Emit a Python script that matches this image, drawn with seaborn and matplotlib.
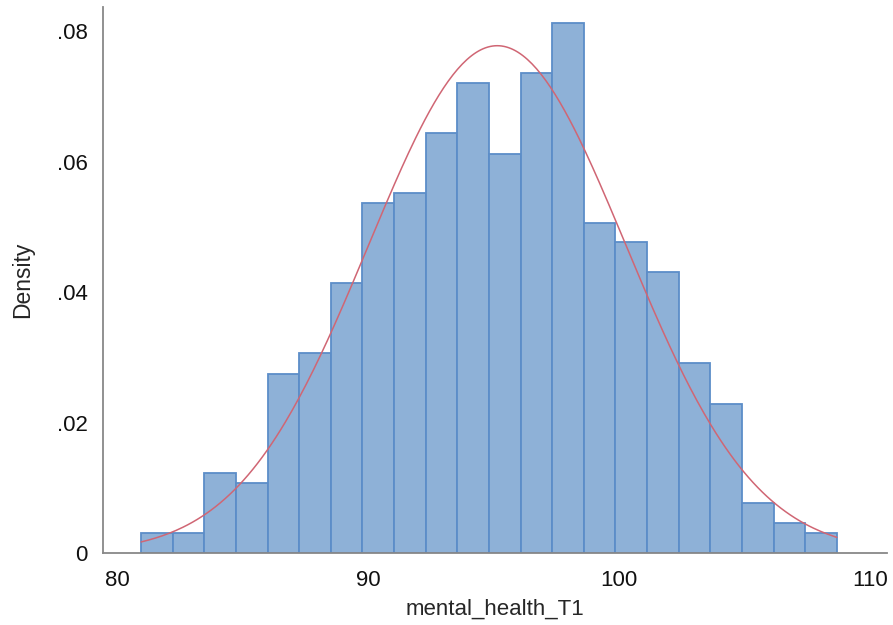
import numpy as np
import pandas as pd
import matplotlib
matplotlib.use("Agg")
import matplotlib.pyplot as plt
import seaborn as sns

# Data
bin_start = 80.96
bin_width = 1.26
densities = [0.0031, 0.0031, 0.0122, 0.0107, 0.0275, 0.0307, 0.0414, 0.0536,
             0.0552, 0.0644, 0.0720, 0.0612, 0.0736, 0.0812, 0.0506, 0.0476,
             0.0430, 0.0291, 0.0229, 0.0076, 0.0046, 0.0031]
normal_mean = 95.15
normal_sd = 5.13
x_ticks = [80, 90, 100, 110]
x_tick_labels = ["80", "90", "100", "110"]
y_ticks = [0, 0.02, 0.04, 0.06, 0.08]
y_tick_labels = ["0", ".02", ".04", ".06", ".08"]

sns.set_style("white")
plt.rcParams['font.family'] = ['Liberation Sans', 'DejaVu Sans']

n = len(densities)
edges = bin_start + bin_width * np.arange(n + 1)
centers = (edges[:-1] + edges[1:]) / 2
df = pd.DataFrame({"mental_health_T1": centers, "w": densities})

fig = plt.figure(figsize=(8.93, 6.25), dpi=100)
ax = fig.add_axes([0.1153, 0.1152, 0.878, 0.8736])

sns.histplot(data=df, x="mental_health_T1", weights="w",
             binwidth=bin_width, binrange=(edges[0], edges[-1]),
             stat="count", color="#8EB1D7", edgecolor="#5C8DC8",
             linewidth=1.3, alpha=1.0, ax=ax)

xs = np.linspace(edges[0], edges[-1], 300)
pdf = np.exp(-0.5 * ((xs - normal_mean) / normal_sd) ** 2) / (normal_sd * np.sqrt(2 * np.pi))
sns.lineplot(x=xs, y=pdf, color="#D06674", linewidth=1.1, ax=ax)

ax.set_xlim(79.44, 110.68)
ax.set_ylim(0, 0.0837)
ax.set_xticks(x_ticks)
ax.set_xticklabels(x_tick_labels)
ax.set_yticks(y_ticks)
ax.set_yticklabels(y_tick_labels)
ax.tick_params(axis="both", length=0, labelsize=16, colors="#111111")
ax.tick_params(axis="x", pad=12)
ax.tick_params(axis="y", pad=11)
ax.set_xlabel("mental_health_T1", fontsize=16, labelpad=6)
ax.set_ylabel("Density", fontsize=16.5, labelpad=16)
for s in ["top", "right"]:
    ax.spines[s].set_visible(False)
for s in ["left", "bottom"]:
    ax.spines[s].set_color("#888888")
    ax.spines[s].set_linewidth(1.3)

fig.savefig("out.png", dpi=100)
